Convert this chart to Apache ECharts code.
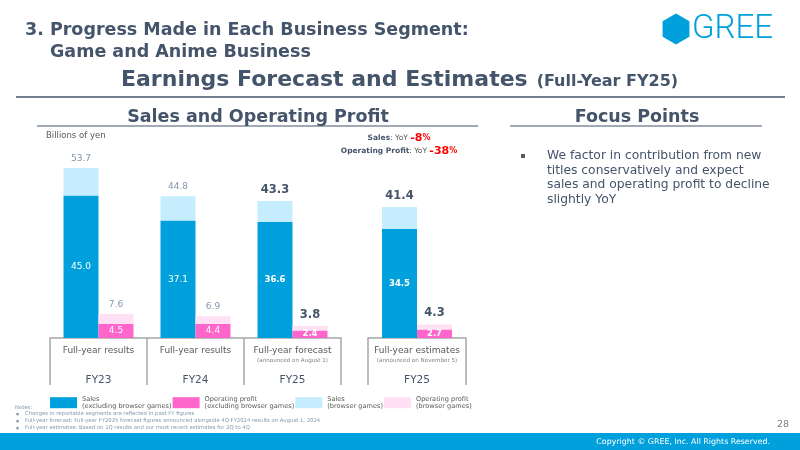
<!DOCTYPE html>
<html><head><meta charset="utf-8">
<script src="https://cdn.jsdelivr.net/npm/echarts@6/dist/echarts.min.js"></script>
<style>html,body{margin:0;padding:0;background:#fff}#c{width:800px;height:450px}</style>
</head><body><div id="c"></div>
<script>
// ---- data ----
const periods = ['Full-year results', 'Full-year results', 'Full-year forecast', 'Full-year estimates'];
const periodNotes = ['', '', '(announced on August 1)', '(announced on November 5)'];
const fiscalYears = ['FY23', 'FY24', 'FY25', 'FY25'];
const salesExcl = [45.0, 37.1, 36.6, 34.5];
const salesTotal = [53.7, 44.8, 43.3, 41.4];
const opExcl = [4.5, 4.4, 2.4, 2.7];
const opTotal = [7.6, 6.9, 3.8, 4.3];
const seriesNames = ['Sales\n(excluding browser games)', 'Operating profit\n(excluding browser games)', 'Sales\n(browser games)', 'Operating profit\n(browser games)'];
const yoyItems = ['Sales', 'Operating Profit'];
const yoyValues = [-8, -38];
const focusLines = ['We factor in contribution from new', 'titles conservatively and expect', 'sales and operating profit to decline', 'slightly YoY'];
const notes = ['Changes in reportable segments are reflected in past FY figures',
  'Full-year forecast: Full-year FY2025 forecast figures announced alongside 4Q FY2024 results on August 1, 2024',
  'Full-year estimates: Based on 1Q results and our most recent estimates for 2Q to 4Q'];

// ---- styles ----
const FONT = 'DejaVu Sans';
const SLATE = '#44546A';
const C = { salesEx: '#00A0DC', salesBr: '#C5EDFD', opEx: '#FF66CC', opBr: '#FFE0F4' };
const greyLbl = '#8497B0';
const groups = [[0, 1, 2], [3]];
const isHL = i => fiscalYears[i] === 'FY25';

function topLabel(i) {
  return isHL(i)
    ? { fontWeight: 'bold', fontSize: 11.5, color: SLATE }
    : { fontWeight: 'normal', fontSize: 9, color: greyLbl };
}
function inLabel(i) {
  return isHL(i) ? { fontWeight: 'bold', fontSize: 8.5 } : { fontWeight: 'normal', fontSize: 9 };
}

const series = [];
groups.forEach((idx, g) => {
  const common = { type: 'bar', xAxisIndex: g, yAxisIndex: g, barWidth: 35, barGap: '0%', silent: true };
  series.push(Object.assign({}, common, {
    name: seriesNames[0], stack: 's' + g, itemStyle: { color: C.salesEx },
    label: { show: true, position: 'inside', color: '#fff', fontFamily: FONT, formatter: p => salesExcl[idx[p.dataIndex]].toFixed(1) },
    data: idx.map(i => ({ value: salesExcl[i], label: inLabel(i) }))
  }));
  series.push(Object.assign({}, common, {
    name: seriesNames[2], stack: 's' + g, itemStyle: { color: C.salesBr },
    label: { show: true, position: 'top', distance: 5, fontFamily: FONT, formatter: p => salesTotal[idx[p.dataIndex]].toFixed(1) },
    data: idx.map(i => ({ value: +(salesTotal[i] - salesExcl[i]).toFixed(1), label: topLabel(i) }))
  }));
  series.push(Object.assign({}, common, {
    name: seriesNames[1], stack: 'o' + g, itemStyle: { color: C.opEx },
    label: { show: true, position: 'inside', color: '#fff', fontFamily: FONT, formatter: p => opExcl[idx[p.dataIndex]].toFixed(1) },
    data: idx.map(i => ({ value: opExcl[i], label: inLabel(i) }))
  }));
  series.push(Object.assign({}, common, {
    name: seriesNames[3], stack: 'o' + g, itemStyle: { color: C.opBr },
    label: { show: true, position: 'top', distance: 5, fontFamily: FONT, formatter: p => opTotal[idx[p.dataIndex]].toFixed(1) },
    data: idx.map(i => ({ value: +(opTotal[i] - opExcl[i]).toFixed(1), label: topLabel(i) }))
  }));
});

const xAxes = groups.map((idx, g) => ({
  type: 'category', gridIndex: g,
  data: idx.map(i => fiscalYears[i] + ' ' + periods[i]),
  axisLine: { show: true, lineStyle: { color: '#A6A6A6', width: 1.5 } },
  axisTick: { show: true, length: 47, interval: 0, alignWithLabel: false, lineStyle: { color: '#A6A6A6', width: 1.5 } },
  axisLabel: {
    interval: 0, margin: 7, fontFamily: FONT,
    formatter: (v, j) => {
      const k = idx[j];
      return '{a|' + periods[k] + '}\n{b|' + (periodNotes[k] || ' ') + '}\n{c|' + fiscalYears[k] + '}';
    },
    rich: {
      a: { fontSize: 9, color: '#595959', lineHeight: 12, fontFamily: FONT },
      b: { fontSize: 5.6, color: '#7F7F7F', lineHeight: 8, fontFamily: FONT },
      c: { fontSize: 10.5, color: SLATE, lineHeight: 30, fontFamily: FONT }
    }
  }
}));
const yAxes = groups.map((idx, g) => ({ type: 'value', gridIndex: g, min: 0, max: 60, show: false }));

// ---- page decoration ----
const graphic = [];
function txt(text, x, y, size, weight, fill, align, family) {
  graphic.push({
    type: 'text', x: x, y: y, silent: true,
    style: { text: text, font: weight + ' ' + size + 'px "' + (family || FONT) + '"', fill: fill, align: align || 'left', verticalAlign: 'middle', textAlign: align || 'left', textVerticalAlign: 'middle' }
  });
}
txt('3. Progress Made in Each Business Segment:', 25, 30, 17.5, 'bold', SLATE);
txt('Game and Anime Business', 50, 52, 17.5, 'bold', SLATE);
graphic.push({
  type: 'text', x: 121, y: 80, silent: true,
  style: {
    text: '{m|Earnings Forecast and Estimates}{g| }{s|(Full-Year FY25)}', verticalAlign: 'middle', textVerticalAlign: 'middle',
    rich: {
      m: { font: 'bold 22px "' + FONT + '"', fill: SLATE },
      g: { font: 'bold 16px "' + FONT + '"', fill: SLATE, width: 9 },
      s: { font: 'bold 16px "' + FONT + '"', fill: SLATE, padding: [3, 0, 0, 0] }
    }
  }
});
graphic.push({ type: 'line', silent: true, shape: { x1: 16, y1: 97, x2: 785, y2: 97 }, style: { stroke: SLATE, lineWidth: 1.5 } });
// logo
const hex = [];
for (let k = 0; k < 6; k++) { const a = Math.PI / 180 * (60 * k - 90); hex.push([676 + 15.5 * Math.cos(a), 29 + 15.5 * Math.sin(a)]); }
graphic.push({ type: 'polygon', silent: true, shape: { points: hex }, style: { fill: '#00A0DC' } });
txt('GREE', 692, 30, 33, '300', '#00A0DC', 'left', 'Roboto');
// section headings
txt('Sales and Operating Profit', 258, 117, 17.5, 'bold', SLATE, 'center');
graphic.push({ type: 'line', silent: true, shape: { x1: 37, y1: 126, x2: 478, y2: 126 }, style: { stroke: SLATE, lineWidth: 1.2 } });
txt('Focus Points', 637, 117, 17.5, 'bold', SLATE, 'center');
graphic.push({ type: 'line', silent: true, shape: { x1: 510, y1: 126, x2: 762, y2: 126 }, style: { stroke: SLATE, lineWidth: 1.2 } });
txt('Billions of yen', 46, 136, 8.5, 'normal', '#595959');
// YoY
yoyItems.forEach((name, k) => {
  graphic.push({
    type: 'text', x: 399, y: 138 + k * 13, silent: true,
    style: {
      text: '{b|' + name + '}{n|: YoY }{r|' + yoyValues[k] + '}{p|%}', align: 'center', textAlign: 'center', verticalAlign: 'middle', textVerticalAlign: 'middle',
      rich: {
        b: { font: 'bold 7.5px "' + FONT + '"', fill: SLATE },
        n: { font: 'normal 7.5px "' + FONT + '"', fill: '#595959' },
        r: { font: 'bold 11px "' + FONT + '"', fill: '#FF0000' },
        p: { font: 'bold 8px "' + FONT + '"', fill: '#FF0000' }
      }
    }
  });
});
// focus points
graphic.push({ type: 'rect', silent: true, shape: { x: 521, y: 154, width: 4, height: 4 }, style: { fill: '#595959' } });
focusLines.forEach((l, k) => txt(l, 547, 156 + k * 14.6, 12.3, 'normal', SLATE));
// notes
txt('Notes:', 15, 408, 5.3, 'normal', '#8497B0');
notes.forEach((n, k) => {
  txt('\u25CF', 16, 414 + k * 6.8, 3.5, 'normal', '#8497B0');
  txt(n, 25, 414 + k * 6.8, 5.3, 'normal', '#8497B0');
});
txt('28', 783, 425, 9.5, 'normal', '#7F7F7F', 'center');
// footer
graphic.push({ type: 'rect', silent: true, shape: { x: 0, y: 433, width: 800, height: 17 }, style: { fill: '#00A0DC' } });
txt('Copyright \u00A9 GREE, Inc. All Rights Reserved.', 770, 441.5, 7.9, 'normal', '#FFFFFF', 'right');

const chart = echarts.init(document.getElementById('c'), null, { renderer: 'canvas' });
chart.setOption({
  animation: false,
  backgroundColor: '#fff',
  textStyle: { fontFamily: FONT },
  grid: [
    { left: 50, width: 291, top: 148, height: 190 },
    { left: 368, width: 98, top: 148, height: 190 }
  ],
  xAxis: xAxes,
  yAxis: yAxes,
  legend: {
    left: 50, top: 395, padding: 0, itemWidth: 27, itemHeight: 11, itemGap: 1,
    icon: 'rect', selectedMode: false,
    data: [seriesNames[0], seriesNames[1], seriesNames[2], seriesNames[3]],
    textStyle: { fontSize: 6.6, lineHeight: 7.7, color: '#595959', fontFamily: FONT }
  },
  series: series,
  graphic: graphic
});
</script>
</body></html>
